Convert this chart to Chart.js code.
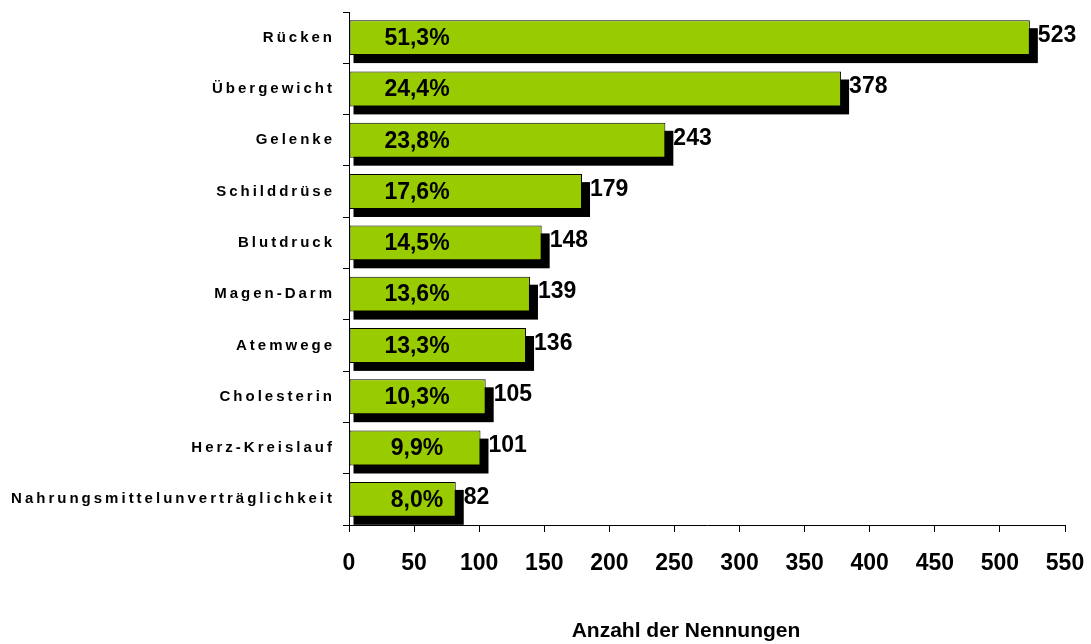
<!DOCTYPE html>
<html>
<head>
<meta charset="utf-8">
<script src="https://cdn.jsdelivr.net/npm/chart.js@4/dist/chart.umd.min.js"></script>
<style>
html,body{margin:0;padding:0;background:#fff;}
#wrap{width:1091px;height:644px;position:relative;}
</style>
</head>
<body>
<div id="wrap"><canvas id="c" width="1091" height="644"></canvas></div>
<script>
const categories = ["Rücken","Übergewicht","Gelenke","Schilddrüse","Blutdruck","Magen-Darm","Atemwege","Cholesterin","Herz-Kreislauf","Nahrungsmittelunverträglichkeit"];
const counts = [523, 378, 243, 179, 148, 139, 136, 105, 101, 82];
const percents = ["51,3%","24,4%","23,8%","17,6%","14,5%","13,6%","13,3%","10,3%","9,9%","8,0%"];
const axisTitle = "Anzahl der Nennungen";
const xMin = 0, xMax = 550, xStep = 50;

const FONT = "'Liberation Sans', Arial, sans-serif";

const spacingPlugin = {
  id: 'spacing',
  beforeDraw(chart) { chart.ctx.letterSpacing = '3px'; },
  beforeDatasetsDraw(chart) {
    const ctx = chart.ctx;
    ctx.letterSpacing = '0px';
    const meta = chart.getDatasetMeta(0);
    ctx.save();
    ctx.fillStyle = '#000';
    meta.data.forEach(bar => {
      const p = bar.getProps(['x','y','base','height'], true);
      const top = p.y - p.height / 2;
      ctx.fillRect(p.base + 4, top + 8, (p.x + 8) - (p.base + 4), p.height);
    });
    ctx.restore();
  },
  afterDatasetsDraw(chart) {
    const ctx = chart.ctx;
    const meta = chart.getDatasetMeta(0);
    const area = chart.chartArea;
    ctx.save();
    ctx.fillStyle = '#000';
    meta.data.forEach((bar, i) => {
      const p = bar.getProps(['x','y'], true);
      ctx.font = "bold 23px " + FONT;
      ctx.textAlign = 'left';
      ctx.textBaseline = 'middle';
      ctx.fillText(String(counts[i]), p.x + 8, p.y - 2);
      ctx.textAlign = 'center';
      ctx.fillText(percents[i], area.left + 68, p.y + 1);
    });
    ctx.font = "bold 21px " + FONT;
    ctx.textAlign = 'center';
    ctx.textBaseline = 'alphabetic';
    ctx.fillText(axisTitle, area.left + 337, 637);
    ctx.restore();
  }
};

new Chart(document.getElementById('c'), {
  type: 'bar',
  data: {
    labels: categories,
    datasets: [{
      data: counts,
      backgroundColor: '#99CC00',
      borderColor: '#000000',
      borderWidth: 1,
      borderSkipped: false,
      barPercentage: 0.68,
      categoryPercentage: 1.0
    }]
  },
  options: {
    indexAxis: 'y',
    responsive: false,
    animation: false,
    devicePixelRatio: 1,
    layout: { padding: { top: 12, right: 26, left: 0, bottom: 0 } },
    plugins: { legend: { display: false }, tooltip: { enabled: false }, title: { display: false } },
    scales: {
      x: {
        type: 'linear',
        min: xMin, max: xMax,
        afterFit(scale) { scale.height = 119; scale.paddingLeft = 0; scale.paddingRight = 0; },
        ticks: { stepSize: xStep, color: '#000', font: { family: FONT, size: 23, weight: 'bold' }, padding: 18, z: 1 },
        grid: { drawOnChartArea: false, drawTicks: true, tickLength: 7, color: '#000', lineWidth: 1 },
        border: { display: true, color: '#000', width: 1 }
      },
      y: {
        afterFit(scale) { scale.width = 349; scale.paddingTop = 0; scale.paddingBottom = 0; },
        ticks: { color: '#000', font: { family: FONT, size: 15, weight: 'bold' }, padding: 8 },
        grid: { offset: true, drawOnChartArea: false, drawTicks: true, tickLength: 6, color: '#000', lineWidth: 1 },
        border: { display: true, color: '#000', width: 1 }
      }
    }
  },
  plugins: [spacingPlugin]
});
</script>
</body>
</html>
